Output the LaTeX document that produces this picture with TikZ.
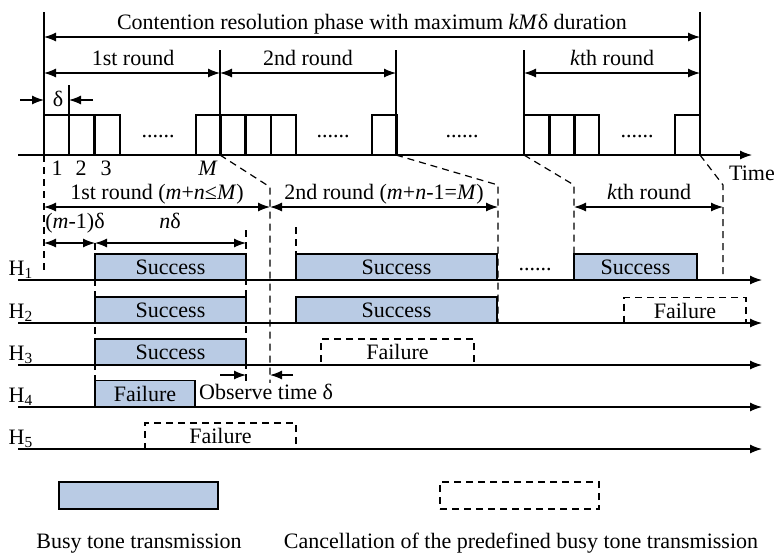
\documentclass[tikz,border=0pt]{standalone}
\usepackage{fontspec}
\setmainfont{Liberation Serif}
\usepackage{xcolor}
\usetikzlibrary{arrows.meta}
\usetikzlibrary{positioning}

\definecolor{busyblue}{RGB}{185,203,228}

\tikzset{
    thin line/.style={line width=0.6pt},
    dimarrow/.style={thin line, {Latex[length=6pt,width=4.5pt]}-{Latex[length=6pt,width=4.5pt]}},
    onearrow/.style={thin line, -{Latex[length=6pt,width=4.5pt]}},
    guide/.style={thin line, dash pattern=on 3.5pt off 2.5pt},
    busy/.style={draw, thin line, fill=busyblue, inner sep=0pt, minimum height=13pt},
    cancel/.style={draw, guide, inner sep=0pt, minimum height=13pt},
    lbl/.style={anchor=base, inner sep=0pt}
}

\begin{document}
\begin{tikzpicture}[x=0.5pt, y=-0.5pt, font=\fontsize{11}{13}\selectfont]

        \useasboundingbox (0,0) rectangle (774,554);

        % upper time line with slots
        \draw[thin line] (44,12) -- (44,155);
        \draw[thin line] (700,12) -- (700,155);
        \foreach \x in {220,396,524}
            \draw[thin line] (\x,50) -- (\x,155);
        \draw[thin line] (69,85) -- (69,155);
        \foreach \x in {44,69,95,196,220,246,271,372,524,550,574,675}
            \draw[thin line] (\x,115) rectangle +(25,40);

        \coordinate (p0) at (44,37);
        \coordinate (pE) at (700,37);
        \draw[dimarrow] (p0) -- (pE);
        \node[lbl] (phase) at (372,29) {Contention resolution phase with maximum \textit{kM}δ duration};

        \coordinate (r0) at (44,73);
        \coordinate (r1) at (220,73);
        \coordinate (r2) at (396,73);
        \coordinate (rk) at (524,73);
        \coordinate (rE) at (700,73);
        \draw[dimarrow] (r0) -- (r1);
        \draw[dimarrow] (r1) -- (r2);
        \draw[dimarrow] (rk) -- (rE);
        \node[lbl] (round1) at (133,65) {1st round};
        \node[lbl] (round2) at (308,65) {2nd round};
        \node[lbl] (roundk) at (612,65) {\textit{k}th round};

        \coordinate (d0) at (20,100);
        \coordinate (d1) at (44,100);
        \coordinate (d2) at (93,100);
        \coordinate (d3) at (69,100);
        \draw[onearrow] (d0) -- (d1);
        \draw[onearrow] (d2) -- (d3);
        \node[lbl] (slotlen) at (58,106) {δ};

        \node[lbl] (dots1) at (158,137) {......};
        \node[lbl] (dots2) at (333,137) {......};
        \node[lbl] (dots3) at (462,137) {......};
        \node[lbl] (dots4) at (637,137) {......};

        \coordinate (ax0) at (18,155);
        \coordinate (ax1) at (752,155);
        \draw[onearrow] (ax0) -- (ax1);
        \node[lbl] (time) at (752,180) {Time};

        \node[lbl] (n1) at (57,175) {1};
        \node[lbl] (n2) at (81,175) {2};
        \node[lbl] (n3) at (106,175) {3};
        \node[lbl] (nM) at (208,175) {\textit{M}};

        % projection of the rounds
        \coordinate (q0) at (44,155);
        \coordinate (q0b) at (44,273);
        \coordinate (q1) at (220,155);
        \coordinate (q1b) at (270,187);
        \coordinate (q1c) at (270,385);
        \coordinate (q2) at (396,155);
        \coordinate (q2b) at (498,185);
        \coordinate (q2c) at (498,323);
        \coordinate (q3) at (524,155);
        \coordinate (q3b) at (574,185);
        \coordinate (q3c) at (574,280);
        \coordinate (q4) at (700,155);
        \coordinate (q4b) at (723,185);
        \coordinate (q4c) at (723,278);
        \draw[guide] (q0) -- (q0b);
        \draw[guide] (q1) -- (q1b) -- (q1c);
        \draw[guide] (q2) -- (q2b) -- (q2c);
        \draw[guide] (q3) -- (q3b) -- (q3c);
        \draw[guide] (q4) -- (q4b) -- (q4c);

        \coordinate (g1) at (95,243);
        \coordinate (g1b) at (95,380);
        \coordinate (g2) at (246,230);
        \coordinate (g2b) at (246,385);
        \coordinate (g3) at (296,227);
        \coordinate (g3b) at (296,254);
        \draw[guide] (g1) -- (g1b);
        \draw[guide] (g2) -- (g2b);
        \draw[guide] (g3) -- (g3b);

        \coordinate (u0) at (44,207);
        \coordinate (u1) at (270,207);
        \coordinate (u2) at (498,207);
        \coordinate (uk) at (574,207);
        \coordinate (uE) at (723,207);
        \draw[dimarrow] (u0) -- (u1);
        \draw[dimarrow] (u1) -- (u2);
        \draw[dimarrow] (uk) -- (uE);
        \node[lbl] (sub1) at (157,199) {1st round (\textit{m}+\textit{n}≤\textit{M})};
        \node[lbl] (sub2) at (384,199) {2nd round (\textit{m}+\textit{n}-1=\textit{M})};
        \node[lbl] (subk) at (649,199) {\textit{k}th round};

        \coordinate (v0) at (44,243);
        \coordinate (v1) at (95,243);
        \coordinate (v2) at (246,243);
        \draw[dimarrow] (v0) -- (v1);
        \draw[dimarrow] (v1) -- (v2);
        \node[lbl] (wait) at (75,228) {(\textit{m}-1)δ};
        \node[lbl] (ndelta) at (170,228) {\textit{n}δ};

        % busy tones of the hosts
        \node[busy, minimum width=75.5pt] (s11) at (170.5,267) {Success};
        \node[busy, minimum width=100.5pt] (s12) at (396.5,267) {Success};
        \node[busy, minimum width=61.5pt] (s1k) at (635.5,267) {Success};
        \node[lbl] (dots5) at (535,270) {......};

        \node[busy, minimum width=75.5pt] (s21) at (170.5,310) {Success};
        \node[busy, minimum width=100.5pt] (s22) at (396.5,310) {Success};
        \node[cancel, minimum width=61pt] (f2k) at (685,310.5) {Failure};

        \node[busy, minimum width=75.5pt] (s31) at (170.5,352) {Success};
        \node[cancel, minimum width=76.5pt] (f32) at (397.5,352) {Failure};

        \node[busy, minimum width=50pt] (f41) at (145,393.5) {Failure};

        \node[cancel, minimum width=75.5pt] (f51) at (220.5,436) {Failure};

        \foreach \i/\y in {1/280,2/323,3/365,4/407,5/449} {
            \coordinate (h\i a) at (18,\y);
            \coordinate (h\i b) at (762,\y);
            \draw[onearrow] (h\i a) -- (h\i b);
            \node[lbl] (host\i) at (21,\y-4.5) {H\textsubscript{\i}};
        }

        \coordinate (o0) at (220,375);
        \coordinate (o1) at (246,375);
        \coordinate (o2) at (293,375);
        \coordinate (o3) at (270,375);
        \draw[onearrow] (o0) -- (o1);
        \draw[onearrow] (o2) -- (o3);
        \node[lbl, fill=white, inner sep=0.5pt] (observe) at (266,399) {Observe time δ};

        % legend
        \node[busy, minimum width=79.5pt, minimum height=13.5pt] (legbusy) at (138.5,495.5) {};
        \node[cancel, minimum width=79.5pt, minimum height=13.5pt] (legcancel) at (519.5,495.5) {};
        \node[lbl] (legbusytext) at (139,548) {Busy tone transmission};
        \node[lbl] (legcanceltext) at (521,548) {Cancellation of the predefined busy tone transmission};

    \end{tikzpicture}
\end{document}
